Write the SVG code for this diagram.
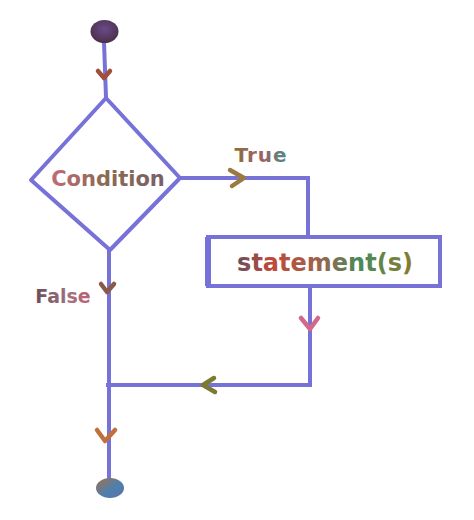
<svg xmlns="http://www.w3.org/2000/svg" width="474" height="520" viewBox="0 0 474 520">
<defs>
<style>
.ln{stroke:#7772d8;stroke-width:4;fill:none;stroke-linecap:square}
.chev{fill:none;stroke-width:4.5;stroke-linecap:round;stroke-linejoin:round}
.lbl{font-family:"DejaVu Sans","Liberation Sans",sans-serif;font-weight:bold}
</style>
<linearGradient id="gCond" x1="0" x2="1" y1="0" y2="0">
<stop offset="0" stop-color="#c06a78"/><stop offset="0.5" stop-color="#8a6a50"/><stop offset="1" stop-color="#7a5f6a"/>
</linearGradient>
<linearGradient id="gStmt" x1="0" x2="1" y1="0" y2="0">
<stop offset="0" stop-color="#6a4e5a"/><stop offset="0.2" stop-color="#c04a3a"/><stop offset="0.45" stop-color="#a0604a"/><stop offset="0.7" stop-color="#4a8a5a"/><stop offset="1" stop-color="#8a7a30"/>
</linearGradient>
<linearGradient id="gTrue" x1="0" x2="1" y1="0" y2="0">
<stop offset="0" stop-color="#8a7040"/><stop offset="0.5" stop-color="#a06060"/><stop offset="1" stop-color="#4a8a8a"/>
</linearGradient>
<linearGradient id="gFalse" x1="0" x2="1" y1="0" y2="0">
<stop offset="0" stop-color="#6a4e5a"/><stop offset="0.6" stop-color="#a07080"/><stop offset="1" stop-color="#c06070"/>
</linearGradient>
<radialGradient id="gStart" cx="0.5" cy="0.4" r="0.6">
<stop offset="0" stop-color="#6a4a8a"/><stop offset="1" stop-color="#4a3048"/>
</radialGradient>
<linearGradient id="gEnd" x1="0" x2="1" y1="0" y2="1">
<stop offset="0" stop-color="#a07050"/><stop offset="0.6" stop-color="#4a80b0"/><stop offset="1" stop-color="#6a6aa0"/>
</linearGradient>
</defs>
<g id="connectors">
<line class="ln" x1="104" y1="42" x2="106" y2="97"/>
<polyline class="ln" points="180,178 308,178 308,237"/>
<polyline class="ln" points="310,286 310,385 108,385"/>
<line class="ln" x1="109" y1="251" x2="109" y2="480"/>
<polyline class="chev" stroke="#a0503a" points="98,71 104,78 110,71"/>
<polyline class="chev" stroke="#9a7a40" points="230,170 244,178 232,186"/>
<polyline class="chev" stroke="#8a5a48" points="101,284 107,292 114,284"/>
<polyline class="chev" stroke="#d06a88" points="301,318 310,329 318,318"/>
<polyline class="chev" stroke="#7a7a30" points="214,378 203,385 215,392"/>
<polyline class="chev" stroke="#c0703a" points="97,430 105,441 115,430"/>
</g>
<g id="start">
<ellipse cx="104.5" cy="31.5" rx="14" ry="11.5" fill="url(#gStart)"/>
</g>
<g id="condition">
<polygon points="106,98 31,180 110,250 180,178" fill="#ffffff" stroke="#7772d8" stroke-width="4" stroke-linejoin="round"/>
<text class="lbl" x="108" y="186" font-size="21" text-anchor="middle" fill="url(#gCond)">Condition</text>
</g>
<g id="label-true">
<text class="lbl" x="261" y="162" font-size="20" letter-spacing="1" text-anchor="middle" fill="url(#gTrue)">True</text>
</g>
<g id="statement">
<rect x="208" y="237" width="232" height="49" fill="#ffffff" stroke="#7772d8" stroke-width="4"/>
<line x1="208" y1="237" x2="208" y2="286" stroke="#7772d8" stroke-width="6"/>
<text class="lbl" x="325" y="271" font-size="24" text-anchor="middle" fill="url(#gStmt)">statement(s)</text>
</g>
<g id="label-false">
<text class="lbl" x="63" y="303" font-size="19" text-anchor="middle" fill="url(#gFalse)">False</text>
</g>
<g id="end">
<ellipse cx="110" cy="488" rx="14" ry="10" fill="url(#gEnd)"/>
</g>
</svg>
